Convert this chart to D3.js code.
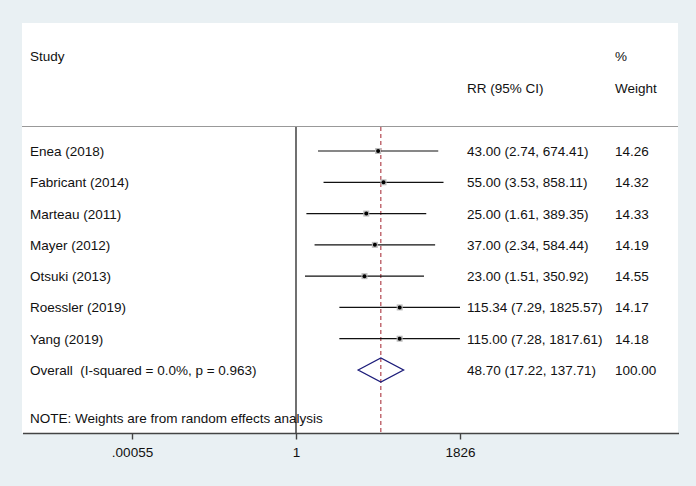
<!DOCTYPE html>
<html>
<head>
<meta charset="utf-8">
<script src="https://cdn.jsdelivr.net/npm/d3@7"></script>
<style>
  body { margin: 0; background: #e9f0f3; }
  svg text { font-family: "Liberation Sans", Arial, sans-serif; fill: #111; white-space: pre; }
</style>
</head>
<body>
<svg width="696" height="486"></svg>
<script>
// study data
var studies = ["Enea (2018)", "Fabricant (2014)", "Marteau (2011)", "Mayer (2012)",
               "Otsuki (2013)", "Roessler (2019)", "Yang (2019)"];
var rr    = [43.00, 55.00, 25.00, 37.00, 23.00, 115.34, 115.00];
var lower = [2.74, 3.53, 1.61, 2.34, 1.51, 7.29, 7.28];
var upper = [674.41, 858.11, 389.35, 584.44, 350.92, 1825.57, 1817.61];
var weights = ["14.26", "14.32", "14.33", "14.19", "14.55", "14.17", "14.18"];

var overallLabel = "Overall  (I-squared = 0.0%, p = 0.963)";
var overall = { rr: 48.70, lo: 17.22, hi: 137.71, weight: "100.00" };

var tickValues = [1 / 1826, 1, 1826];
var tickLabels = [".00055", "1", "1826"];

var svg = d3.select("svg");

// white plot region
svg.append("rect")
    .attr("x", 22).attr("y", 23)
    .attr("width", 656).attr("height", 410)
    .attr("fill", "#fff");

var x = d3.scaleLog().domain([1 / 1826, 1826]).range([132, 460]);
var y = d3.scaleLinear().domain([0, 7]).range([151, 370]);

var fs = "13.5px";
var fmt = d3.format(".2f");

// headers
svg.append("text").attr("x", 30).attr("y", 61).style("font-size", fs).text("Study");
svg.append("text").attr("x", 615).attr("y", 61).style("font-size", fs).text("%");
svg.append("text").attr("x", 467).attr("y", 93).style("font-size", fs).text("RR (95% CI)");
svg.append("text").attr("x", 615).attr("y", 93).style("font-size", fs).text("Weight");

// top rule
svg.append("line")
    .attr("x1", 22).attr("x2", 678).attr("y1", 126.5).attr("y2", 126.5)
    .attr("stroke", "#999").attr("stroke-width", 1.2);

// null line at 1
svg.append("line")
    .attr("x1", x(1)).attr("x2", x(1)).attr("y1", 127).attr("y2", 433)
    .attr("stroke", "#111").attr("stroke-width", 1.2);

// overall effect dashed line
svg.append("line")
    .attr("x1", x(overall.rr)).attr("x2", x(overall.rr)).attr("y1", 127).attr("y2", 433)
    .attr("stroke", "#a3202c").attr("stroke-width", 1)
    .attr("stroke-dasharray", "4,3");

var rows = studies.map(function(s, i) {
    return { name: s, rr: rr[i], lo: lower[i], hi: upper[i], w: weights[i], i: i };
});

var g = svg.append("g");

// CI lines
g.selectAll(".ci").data(rows).enter().append("line")
    .attr("x1", d => x(d.lo)).attr("x2", d => x(d.hi))
    .attr("y1", d => y(d.i)).attr("y2", d => y(d.i))
    .attr("stroke", "#111").attr("stroke-width", 1.2);

// weight boxes
g.selectAll(".box").data(rows).enter().append("rect")
    .attr("x", d => x(d.rr) - 3).attr("y", d => y(d.i) - 3)
    .attr("width", 6).attr("height", 6)
    .attr("fill", "#bbb");

// point estimates
g.selectAll(".pt").data(rows).enter().append("circle")
    .attr("cx", d => x(d.rr)).attr("cy", d => y(d.i))
    .attr("r", 2).attr("fill", "#000");

// labels
g.selectAll(".lab").data(rows).enter().append("text")
    .attr("x", 30).attr("y", d => y(d.i) + 5)
    .style("font-size", fs).text(d => d.name);

g.selectAll(".est").data(rows).enter().append("text")
    .attr("x", 467).attr("y", d => y(d.i) + 5)
    .style("font-size", fs)
    .text(d => fmt(d.rr) + " (" + fmt(d.lo) + ", " + fmt(d.hi) + ")");

g.selectAll(".wt").data(rows).enter().append("text")
    .attr("x", 615).attr("y", d => y(d.i) + 5)
    .style("font-size", fs).text(d => d.w);

// overall row
var oy = y(7);
svg.append("text").attr("x", 30).attr("y", oy + 5).style("font-size", fs).text(overallLabel);
svg.append("path")
    .attr("d", "M" + x(overall.lo) + "," + oy +
               "L" + x(overall.rr) + "," + (oy - 12) +
               "L" + x(overall.hi) + "," + oy +
               "L" + x(overall.rr) + "," + (oy + 12) + "Z")
    .attr("fill", "none").attr("stroke", "#1c1c7a").attr("stroke-width", 1.3);
svg.append("text").attr("x", 467).attr("y", oy + 5).style("font-size", fs)
    .text(fmt(overall.rr) + " (" + fmt(overall.lo) + ", " + fmt(overall.hi) + ")");
svg.append("text").attr("x", 615).attr("y", oy + 5).style("font-size", fs).text(overall.weight);

// note
svg.append("text").attr("x", 30).attr("y", 423).style("font-size", fs)
    .text("NOTE: Weights are from random effects analysis");

// x axis
svg.append("line")
    .attr("x1", 23).attr("x2", 679).attr("y1", 433.5).attr("y2", 433.5)
    .attr("stroke", "#444").attr("stroke-width", 1.6);

var axis = d3.axisBottom(x)
    .tickValues(tickValues)
    .tickFormat((d, i) => tickLabels[i])
    .tickSize(6).tickPadding(8);

var ax = svg.append("g").attr("transform", "translate(0,433.5)").call(axis);
ax.select(".domain").remove();
ax.selectAll("line").attr("stroke", "#444").attr("stroke-width", 1.4);
ax.selectAll("text").style("font-size", fs).attr("fill", "#111");
</script>
</body>
</html>
